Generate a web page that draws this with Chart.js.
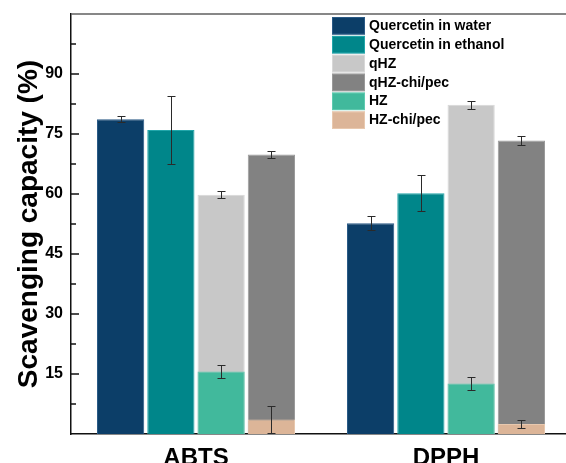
<!DOCTYPE html>
<html><head><meta charset="utf-8">
<script src="https://cdn.jsdelivr.net/npm/chart.js@4.4.0/dist/chart.umd.min.js"></script>
<style>html,body{margin:0;padding:0;overflow:hidden;background:#fff}#wrap{width:580px;height:463px;position:relative}</style>
</head><body><div id="wrap"><canvas id="c" width="580" height="463"></canvas></div>
<script>
const categories = ['ABTS', 'DPPH'];
const quercetinWater = [78.7, 52.7];
const quercetinWaterErr = [0.7, 1.8];
const quercetinEthanol = [76.0, 60.2];
const quercetinEthanolErr = [8.6, 4.5];
const qHZ = [59.8, 82.3];
const qHZErr = [0.9, 1.0];
const qHZChiPec = [69.9, 73.4];
const qHZChiPecErr = [0.8, 1.1];
const HZ = [15.6, 12.6];
const HZErr = [1.7, 1.7];
const HZChiPec = [3.6, 2.5];
const HZChiPecErr = [3.3, 1.0];
const yMajorTicks = [15, 30, 45, 60, 75, 90];
const yMinorTicks = [7.5, 22.5, 37.5, 52.5, 67.5, 82.5, 97.5];
const legendOrder = ['Quercetin in water', 'Quercetin in ethanol', 'qHZ', 'qHZ-chi/pec', 'HZ', 'HZ-chi/pec'];

const FONT = '"Liberation Sans", Arial, sans-serif';
const colors = {
  'Quercetin in water': ['#0c3e68', '#2a5a86'],
  'Quercetin in ethanol': ['#00868a', '#22a6aa'],
  'qHZ': ['#c8c8c8', '#d8d8d8'],
  'qHZ-chi/pec': ['#828282', '#9a9a9a'],
  'HZ': ['#41b99c', '#5fcab0'],
  'HZ-chi/pec': ['#dcb598', '#e8c8ae']
};
function ds(label, data, err, stack) {
  return { label, data, err, stack, backgroundColor: colors[label][0], borderColor: colors[label][1],
    borderWidth: 1, borderSkipped: 'bottom', categoryPercentage: 0.804, barPercentage: 0.94 };
}
const datasets = [
  ds('Quercetin in water', quercetinWater, quercetinWaterErr, 's1'),
  ds('Quercetin in ethanol', quercetinEthanol, quercetinEthanolErr, 's2'),
  ds('HZ', HZ, HZErr, 's3'),
  ds('qHZ', qHZ, qHZErr, 's3'),
  ds('HZ-chi/pec', HZChiPec, HZChiPecErr, 's4'),
  ds('qHZ-chi/pec', qHZChiPec, qHZChiPecErr, 's4')
];

const decor = {
  id: 'decor',
  afterDatasetsDraw(chart) {
    const ctx = chart.ctx, y = chart.scales.y;
    ctx.save();
    ctx.strokeStyle = '#2a2a2a';
    ctx.lineWidth = 1;
    chart.data.datasets.forEach((d, i) => {
      const meta = chart.getDatasetMeta(i);
      meta.data.forEach((el, j) => {
        const v = d.data[j], e = d.err[j];
        const x = Math.round(el.x) + 0.5;
        const t = Math.round(y.getPixelForValue(v + e)) + 0.5;
        const b = Math.round(y.getPixelForValue(Math.max(0, v - e))) + 0.5;
        ctx.beginPath();
        ctx.moveTo(x, t); ctx.lineTo(x, b);
        ctx.moveTo(x - 4, t); ctx.lineTo(x + 4, t);
        if (v - e > 0) { ctx.moveTo(x - 4, b); ctx.lineTo(x + 4, b); }
        ctx.stroke();
      });
    });
    ctx.restore();
  },
  afterDraw(chart) {
    const ctx = chart.ctx, a = chart.chartArea, y = chart.scales.y;
    ctx.save();
    ctx.strokeStyle = '#606060';
    ctx.lineWidth = 1.5;
    ctx.beginPath();
    ctx.moveTo(a.left, a.top); ctx.lineTo(a.right, a.top); ctx.lineTo(a.right, a.bottom);
    ctx.stroke();
    ctx.strokeStyle = '#111';
    ctx.lineWidth = 1.5;
    ctx.beginPath();
    yMajorTicks.forEach(v => { const p = Math.round(y.getPixelForValue(v)); ctx.moveTo(a.left, p); ctx.lineTo(a.left + 8, p); });
    yMinorTicks.forEach(v => { const p = Math.round(y.getPixelForValue(v)); ctx.moveTo(a.left, p); ctx.lineTo(a.left + 5, p); });
    ctx.stroke();
    ctx.fillStyle = '#000';
    ctx.font = 'bold 28px ' + FONT;
    ctx.textAlign = 'center';
    ctx.textBaseline = 'alphabetic';
    ctx.translate(37, (a.top + a.bottom) / 2);
    ctx.rotate(-Math.PI / 2);
    ctx.fillText('Scavenging capacity (%)', 0, 0);
    ctx.restore();
    ctx.save();
    const lx = 332, ly = 17, pitch = 18.9;
    ctx.font = 'bold 14px ' + FONT;
    ctx.textAlign = 'left';
    ctx.textBaseline = 'middle';
    legendOrder.forEach((name, k) => {
      const top = ly + k * pitch;
      ctx.fillStyle = colors[name][0];
      ctx.fillRect(lx, top, 33, 17.5);
      ctx.strokeStyle = colors[name][1];
      ctx.lineWidth = 1;
      ctx.strokeRect(lx + 0.5, top + 0.5, 32, 16.5);
      ctx.fillStyle = '#000';
      ctx.fillText(name, 369, top + 9);
    });
    ctx.restore();
  }
};

new Chart(document.getElementById('c'), {
  type: 'bar',
  data: { labels: categories, datasets },
  plugins: [decor],
  options: {
    responsive: false,
    animation: false,
    layout: { padding: { left: 0, top: 14, right: 9, bottom: 0 } },
    plugins: { legend: { display: false }, tooltip: { enabled: false } },
    scales: {
      x: {
        stacked: true,
        grid: { display: false, drawTicks: false },
        border: { display: true, color: '#111', width: 1.5 },
        ticks: { color: '#000', font: { family: FONT, size: 24, weight: 'bold' }, padding: 10 },
        afterFit(s) { s.height = 29; }
      },
      y: {
        stacked: false,
        min: 0, max: 105,
        grid: { display: false, drawTicks: false },
        border: { display: true, color: '#111', width: 1.5 },
        ticks: {
          stepSize: 15, padding: 8, color: '#000',
          font: { family: FONT, size: 16, weight: 'bold' },
          callback: v => (yMajorTicks.includes(v) ? String(v) : null)
        },
        afterFit(s) { s.width = 71; s.paddingTop = 0; s.paddingBottom = 0; }
      }
    }
  }
});
</script>
</body></html>
